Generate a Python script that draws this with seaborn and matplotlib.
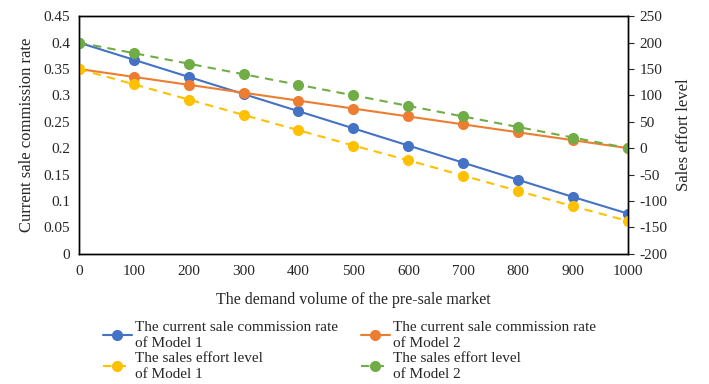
import matplotlib
matplotlib.use("Agg")
import matplotlib.pyplot as plt
import seaborn as sns
import pandas as pd

# demand volume of the pre-sale market
demand = [0, 100, 200, 300, 400, 500, 600, 700, 800, 900, 1000]

# current sale commission rate (left axis)
rate_model1 = [0.4, 0.3675, 0.335, 0.3025, 0.27, 0.2375, 0.205, 0.1725, 0.14, 0.1075, 0.076]
rate_model2 = [0.35, 0.335, 0.32, 0.305, 0.29, 0.275, 0.26, 0.245, 0.23, 0.215, 0.2]

# sales effort level (right axis)
effort_model1 = [150, 121, 92, 63, 34, 5, -23, -52, -81, -110, -138]
effort_model2 = [200, 180, 160, 140, 120, 100, 80, 60, 40, 20, 0]

labels = [
    "The current sale commission rate\nof Model 1",
    "The current sale commission rate\nof Model 2",
    "The sales effort level\nof Model 1",
    "The sales effort level\nof Model 2",
]
colors = ["#4472C4", "#ED7D31", "#FFC000", "#70AD47"]

sns.set_style("white")
plt.rcParams["font.family"] = ["Liberation Serif", "DejaVu Serif"]
plt.rcParams["axes.unicode_minus"] = False

df = pd.DataFrame({
    "demand": demand,
    "rate1": rate_model1,
    "rate2": rate_model2,
    "eff1": effort_model1,
    "eff2": effort_model2,
})

fig = plt.figure(figsize=(7.09, 3.84), dpi=100)
ax = fig.add_axes([0.111, 0.339, 0.775, 0.619])
ax2 = ax.twinx()

line_kw = dict(marker="o", markersize=8, markeredgewidth=0, linewidth=1.5)
sns.lineplot(data=df, x="demand", y="eff1", ax=ax2, color=colors[2],
             linestyle=(0, (4, 3)), label=labels[2], **line_kw)
sns.lineplot(data=df, x="demand", y="eff2", ax=ax2, color=colors[3],
             linestyle=(0, (4, 3)), label=labels[3], **line_kw)
sns.lineplot(data=df, x="demand", y="rate1", ax=ax, color=colors[0],
             label=labels[0], **line_kw)
sns.lineplot(data=df, x="demand", y="rate2", ax=ax, color=colors[1],
             label=labels[1], **line_kw)

ax.set_xlim(0, 1000)
ax.set_ylim(0, 0.45)
ax2.set_ylim(-200, 250)
ax.set_xticks(demand)
ax.set_yticks([0, 0.05, 0.1, 0.15, 0.2, 0.25, 0.3, 0.35, 0.4, 0.45])
ax.set_yticklabels(["0", "0.05", "0.1", "0.15", "0.2", "0.25", "0.3", "0.35", "0.4", "0.45"])
ax2.set_yticks(range(-200, 251, 50))

ax.tick_params(axis="x", direction="in", length=4, labelsize=11, pad=8)
ax.tick_params(axis="y", length=0, labelsize=11, pad=6)
ax2.tick_params(axis="y", direction="out", length=4, labelsize=11, pad=4)

for a in (ax, ax2):
    for sp in a.spines.values():
        sp.set_visible(True)
        sp.set_color("black")
        sp.set_linewidth(1.0)

ax.set_xlabel("The demand volume of the pre-sale market", fontsize=11.5, labelpad=10)
ax.set_ylabel("Current sale commission rate", fontsize=12, labelpad=6)
ax2.set_ylabel("Sales effort level", fontsize=12, labelpad=6)

ax.get_legend().remove()
ax2.get_legend().remove()
h1, l1 = ax.get_legend_handles_labels()
h2, l2 = ax2.get_legend_handles_labels()
# column-wise fill: col 1 = Model 1 entries, col 2 = Model 2 entries
handles = [h1[0], h2[0], h1[1], h2[1]]
leg_labels = [labels[0], labels[2], labels[1], labels[3]]
leg = fig.legend(handles, leg_labels, loc="upper left", bbox_to_anchor=(0.145, 0.165),
                 ncol=2, frameon=False, fontsize=11, handlelength=1.9,
                 columnspacing=1.5, labelspacing=0.1, handletextpad=0.2,
                 borderaxespad=0, borderpad=0)
for t in leg.get_texts():
    t.set_linespacing(1.35)

fig.savefig("out.png", dpi=100)
